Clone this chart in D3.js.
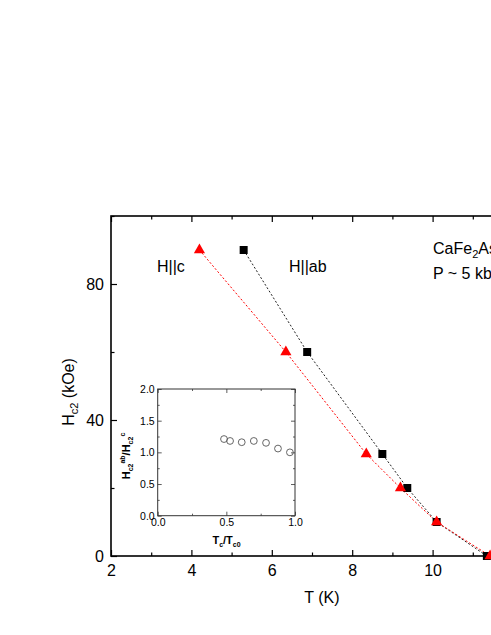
<!DOCTYPE html>
<html>
<head>
<meta charset="utf-8">
<script src="https://cdn.jsdelivr.net/npm/d3@7"></script>
<style>
  html, body { margin: 0; padding: 0; background: #fff; }
  svg { display: block; font-family: "Liberation Sans", Arial, sans-serif; }
</style>
</head>
<body>
<svg id="chart" width="491" height="635"></svg>
<script>
// ---- data ----
const hcT = [4.2, 6.35, 8.35, 9.2, 10.1, 11.43];      // H||c, T (K)
const hcH = [90, 60, 30, 20, 10, 0];                  // H||c, Hc2 (kOe)
const habT = [5.3, 6.88, 8.75, 9.37, 10.1, 11.35];    // H||ab, T (K)
const habH = [90, 60, 30, 20, 10, 0];                 // H||ab, Hc2 (kOe)
const ratioX = [0.483, 0.527, 0.612, 0.70, 0.789, 0.876, 0.963]; // Tc/Tc0
const ratioY = [1.21, 1.18, 1.16, 1.18, 1.15, 1.06, 1.00];       // Hc2ab/Hc2c

const xTicks = [2, 4, 6, 8, 10];
const xMajorMarks = [2, 4, 6, 8, 10, 12];
const xMinor = [3, 5, 7, 9, 11];
const yTicks = [0, 40, 80];
const yMinor = [20, 60, 100];
const insXTicks = [0, 0.5, 1.0];
const insXMinor = [0.25, 0.75];
const insYTicks = [0, 0.5, 1.0, 1.5, 2.0];
const insYMinor = [0.25, 0.75, 1.25, 1.75];

const svg = d3.select("#chart");

// ---- main scales ----
const x = d3.scaleLinear().domain([2, 12]).range([111, 513]);
const y = d3.scaleLinear().domain([0, 100]).range([556, 216]);

function styleAxis(g, fs) {
  g.select(".domain").remove();
  g.selectAll("line").attr("stroke", "#000").attr("stroke-width", 1.2);
  g.selectAll("text").attr("font-size", fs).attr("fill", "#000")
    .attr("font-family", '"Liberation Sans", Arial, sans-serif');
}

// bottom
svg.append("g").attr("transform", `translate(0,${y(0)})`)
  .call(d3.axisBottom(x).tickValues(xTicks).tickSize(-6).tickPadding(9).tickFormat(d3.format("d")))
  .call(g => styleAxis(g, 16));
svg.append("g").attr("transform", `translate(0,${y(0)})`)
  .call(d3.axisBottom(x).tickValues(xMinor).tickSize(-3.5).tickFormat(""))
  .call(g => styleAxis(g, 16));
// top
svg.append("g").attr("transform", `translate(0,${y(100)})`)
  .call(d3.axisTop(x).tickValues(xMajorMarks).tickSize(-6).tickFormat(""))
  .call(g => styleAxis(g, 16));
svg.append("g").attr("transform", `translate(0,${y(100)})`)
  .call(d3.axisTop(x).tickValues(xMinor).tickSize(-3.5).tickFormat(""))
  .call(g => styleAxis(g, 16));
// left
svg.append("g").attr("transform", `translate(${x(2)},0)`)
  .call(d3.axisLeft(y).tickValues(yTicks).tickSize(-6).tickPadding(7).tickFormat(d3.format("d")))
  .call(g => styleAxis(g, 16));
svg.append("g").attr("transform", `translate(${x(2)},0)`)
  .call(d3.axisLeft(y).tickValues(yMinor).tickSize(-3.5).tickFormat(""))
  .call(g => styleAxis(g, 16));
// right (mirror)
svg.append("g").attr("transform", `translate(${x(12)},0)`)
  .call(d3.axisRight(y).tickValues(yTicks).tickSize(-6).tickFormat(""))
  .call(g => styleAxis(g, 16));

// frame
svg.append("rect")
  .attr("x", x(2)).attr("y", y(100))
  .attr("width", x(12) - x(2)).attr("height", y(0) - y(100))
  .attr("fill", "none").attr("stroke", "#000").attr("stroke-width", 1.6);

// axis titles
svg.append("text").attr("x", 322).attr("y", 603).attr("text-anchor", "middle")
  .attr("font-size", 16).text("T (K)");
const yt = svg.append("text")
  .attr("transform", "translate(74,392) rotate(-90)")
  .attr("text-anchor", "middle").attr("font-size", 16);
yt.append("tspan").text("H");
yt.append("tspan").attr("font-size", 11).attr("dy", 4).text("c2");
yt.append("tspan").attr("dy", -4).text(" (kOe)");

// ---- series ----
const hcData = hcT.map((t, i) => ({ T: t, H: hcH[i] }));
const habData = habT.map((t, i) => ({ T: t, H: habH[i] }));
const line = d3.line().x(d => x(d.T)).y(d => y(d.H));

svg.append("path").datum(habData).attr("d", line)
  .attr("fill", "none").attr("stroke", "#222").attr("stroke-width", 1)
  .attr("stroke-dasharray", "2,2");
svg.append("path").datum(hcData).attr("d", line)
  .attr("fill", "none").attr("stroke", "#ff0000").attr("stroke-width", 1)
  .attr("stroke-dasharray", "2,2");

svg.append("g").selectAll("path").data(habData).join("path")
  .attr("d", d3.symbol(d3.symbolSquare, 64)())
  .attr("transform", d => `translate(${x(d.T)},${y(d.H)})`)
  .attr("fill", "#000");
svg.append("g").selectAll("path").data(hcData).join("path")
  .attr("d", d3.symbol(d3.symbolTriangle, 54)())
  .attr("transform", d => `translate(${x(d.T)},${y(d.H)})`)
  .attr("fill", "#ff0000");

// annotations
svg.append("text").attr("x", 157).attr("y", 272).attr("font-size", 16).text("H||c");
svg.append("text").attr("x", 289).attr("y", 272).attr("font-size", 16).text("H||ab");
const comp = svg.append("text").attr("x", 433).attr("y", 254).attr("font-size", 16);
comp.append("tspan").text("CaFe");
comp.append("tspan").attr("font-size", 11).attr("dy", 4).text("2");
comp.append("tspan").attr("dy", -4).text("As");
comp.append("tspan").attr("font-size", 11).attr("dy", 4).text("2");
svg.append("text").attr("x", 433).attr("y", 279).attr("font-size", 16).text("P ~ 5 kbar");

// ---- inset ----
const ix = d3.scaleLinear().domain([0, 1]).range([157.7, 295]);
const iy = d3.scaleLinear().domain([0, 2]).range([515.7, 389]);

svg.append("rect")
  .attr("x", ix(0)).attr("y", iy(2))
  .attr("width", ix(1) - ix(0)).attr("height", iy(0) - iy(2))
  .attr("fill", "#fff").attr("stroke", "none");

function styleInset(g) {
  g.select(".domain").remove();
  g.selectAll("line").attr("stroke", "#333").attr("stroke-width", 0.8);
  g.selectAll("text").attr("font-size", 10.5).attr("fill", "#000")
    .attr("font-family", '"Liberation Sans", Arial, sans-serif');
}
const f1 = d3.format(".1f");
svg.append("g").attr("transform", `translate(0,${iy(0)})`)
  .call(d3.axisBottom(ix).tickValues(insXTicks).tickSize(-4).tickPadding(3).tickFormat(f1)).call(styleInset);
svg.append("g").attr("transform", `translate(0,${iy(0)})`)
  .call(d3.axisBottom(ix).tickValues(insXMinor).tickSize(-2).tickFormat("")).call(styleInset);
svg.append("g").attr("transform", `translate(0,${iy(2)})`)
  .call(d3.axisTop(ix).tickValues(insXTicks).tickSize(-4).tickFormat("")).call(styleInset);
svg.append("g").attr("transform", `translate(0,${iy(2)})`)
  .call(d3.axisTop(ix).tickValues(insXMinor).tickSize(-2).tickFormat("")).call(styleInset);
svg.append("g").attr("transform", `translate(${ix(0)},0)`)
  .call(d3.axisLeft(iy).tickValues(insYTicks).tickSize(-4).tickPadding(3).tickFormat(f1)).call(styleInset);
svg.append("g").attr("transform", `translate(${ix(0)},0)`)
  .call(d3.axisLeft(iy).tickValues(insYMinor).tickSize(-2).tickFormat("")).call(styleInset);
svg.append("g").attr("transform", `translate(${ix(1)},0)`)
  .call(d3.axisRight(iy).tickValues(insYTicks).tickSize(-4).tickFormat("")).call(styleInset);
svg.append("g").attr("transform", `translate(${ix(1)},0)`)
  .call(d3.axisRight(iy).tickValues(insYMinor).tickSize(-2).tickFormat("")).call(styleInset);

svg.append("rect")
  .attr("x", ix(0)).attr("y", iy(2))
  .attr("width", ix(1) - ix(0)).attr("height", iy(0) - iy(2))
  .attr("fill", "none").attr("stroke", "#333").attr("stroke-width", 1);

const ratioData = ratioX.map((v, i) => ({ r: v, q: ratioY[i] }));
svg.append("g").selectAll("circle").data(ratioData).join("circle")
  .attr("cx", d => ix(d.r)).attr("cy", d => iy(d.q)).attr("r", 3.4)
  .attr("fill", "none").attr("stroke", "#555").attr("stroke-width", 0.9);

// inset titles
const ixt = svg.append("text").attr("x", 226.5).attr("y", 544)
  .attr("text-anchor", "middle").attr("font-size", 11).attr("font-weight", "bold");
ixt.append("tspan").text("T");
ixt.append("tspan").attr("font-size", 7).attr("dy", 3).text("c");
ixt.append("tspan").attr("dy", -3).text("/T");
ixt.append("tspan").attr("font-size", 7).attr("dy", 3).text("c0");

const iyt = svg.append("text").attr("transform", "translate(130,456) rotate(-90)")
  .attr("text-anchor", "middle").attr("font-size", 11).attr("font-weight", "bold");
iyt.append("tspan").text("H");
iyt.append("tspan").attr("font-size", 7).attr("dy", 3).text("c2");
iyt.append("tspan").attr("font-size", 7).attr("dy", -8).text("ab");
iyt.append("tspan").attr("dy", 5).text("/H");
iyt.append("tspan").attr("font-size", 7).attr("dy", 3).text("c2");
iyt.append("tspan").attr("font-size", 7).attr("dy", -8).text("c");
</script>
</body>
</html>
